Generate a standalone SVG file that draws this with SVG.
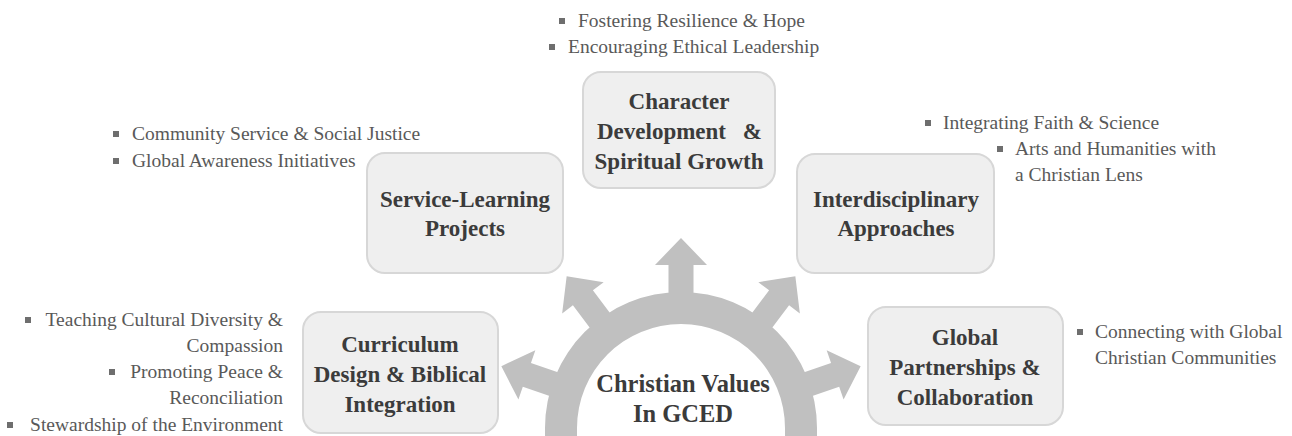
<svg xmlns="http://www.w3.org/2000/svg" width="1292" height="436" viewBox="0 0 1292 436">
<defs>
<style>
.box{fill:#efefef;stroke:#d7d7d7;stroke-width:2}
.lbl{font-family:"Liberation Serif","Times New Roman",serif;font-weight:bold;font-size:23px;fill:#3b3b3b;text-anchor:middle}
.ctr{font-family:"Liberation Serif","Times New Roman",serif;font-weight:bold;font-size:24.5px;fill:#3b3b3b;text-anchor:middle}
.bt{font-family:"Liberation Serif","Times New Roman",serif;font-size:19.5px;fill:#595959}
.bl{fill:#6e6e6e}
.arc{fill:#c0c0c0}
</style>
<polygon id="arr" points="-12.5,-110 -12.5,-163 -26,-163 0,-190 26,-163 12.5,-163 12.5,-110"/>
</defs>
<rect width="1292" height="436" fill="#ffffff"/>

<g id="connectors" class="arc">
<path d="M545 436 L545 428 A136 136 0 0 1 817 428 L817 436 L785 436 L785 428 A104 104 0 0 0 577 428 L577 436 Z"/>
<use href="#arr" transform="translate(681,428)"/>
<use href="#arr" transform="translate(681,428) rotate(-37)"/>
<use href="#arr" transform="translate(681,428) rotate(37)"/>
<use href="#arr" transform="translate(681,428) rotate(-71)"/>
<use href="#arr" transform="translate(681,428) rotate(71)"/>
</g>

<g id="center">
<text class="ctr" x="683" y="392">Christian Values</text>
<text class="ctr" x="683" y="422">In GCED</text>
</g>

<g id="character">
<rect class="box" x="583" y="72" width="192" height="116" rx="18"/>
<text class="lbl" x="679" y="109">Character</text>
<text class="lbl" x="597" y="139" style="text-anchor:start">Development</text>
<text class="lbl" x="762" y="139" style="text-anchor:end">&amp;</text>
<text class="lbl" x="679" y="169">Spiritual Growth</text>
</g>

<g id="service">
<rect class="box" x="367" y="153" width="196" height="120" rx="18"/>
<text class="lbl" x="465" y="207">Service-Learning</text>
<text class="lbl" x="465" y="236">Projects</text>
</g>

<g id="interdisciplinary">
<rect class="box" x="797" y="154" width="197" height="119" rx="18"/>
<text class="lbl" x="896" y="207">Interdisciplinary</text>
<text class="lbl" x="896" y="236">Approaches</text>
</g>

<g id="curriculum">
<rect class="box" x="303" y="312" width="195" height="121" rx="18"/>
<text class="lbl" x="400" y="352">Curriculum</text>
<text class="lbl" x="400" y="382">Design &amp; Biblical</text>
<text class="lbl" x="400" y="412">Integration</text>
</g>

<g id="global">
<rect class="box" x="868" y="307" width="195" height="118" rx="18"/>
<text class="lbl" x="965" y="345">Global</text>
<text class="lbl" x="965" y="375">Partnerships &amp;</text>
<text class="lbl" x="965" y="405">Collaboration</text>
</g>

<g id="character-notes">
<rect class="bl" x="559" y="18" width="6" height="6"/>
<text class="bt" x="578" y="27">Fostering Resilience &amp; Hope</text>
<rect class="bl" x="549" y="44" width="6" height="6"/>
<text class="bt" x="568" y="53">Encouraging Ethical Leadership</text>
</g>

<g id="service-notes">
<rect class="bl" x="113" y="131" width="6" height="6"/>
<text class="bt" x="132" y="140">Community Service &amp; Social Justice</text>
<rect class="bl" x="113" y="158" width="6" height="6"/>
<text class="bt" x="132" y="167">Global Awareness Initiatives</text>
</g>

<g id="interdisciplinary-notes">
<rect class="bl" x="925" y="120" width="6" height="6"/>
<text class="bt" x="943" y="129">Integrating Faith &amp; Science</text>
<rect class="bl" x="997" y="146" width="6" height="6"/>
<text class="bt" x="1015" y="155">Arts and Humanities with</text>
<text class="bt" x="1015" y="181">a Christian Lens</text>
</g>

<g id="curriculum-notes">
<rect class="bl" x="25" y="317" width="6" height="6"/>
<text class="bt" x="283" y="326" text-anchor="end">Teaching Cultural Diversity &amp;</text>
<text class="bt" x="283" y="352" text-anchor="end">Compassion</text>
<rect class="bl" x="109" y="369" width="6" height="6"/>
<text class="bt" x="283" y="378" text-anchor="end">Promoting Peace &amp;</text>
<text class="bt" x="283" y="404" text-anchor="end">Reconciliation</text>
<rect class="bl" x="7" y="422" width="6" height="6"/>
<text class="bt" x="283" y="431" text-anchor="end">Stewardship of the Environment</text>
</g>

<g id="global-notes">
<rect class="bl" x="1077" y="329" width="6" height="6"/>
<text class="bt" x="1095" y="338">Connecting with Global</text>
<text class="bt" x="1095" y="364">Christian Communities</text>
</g>
</svg>
